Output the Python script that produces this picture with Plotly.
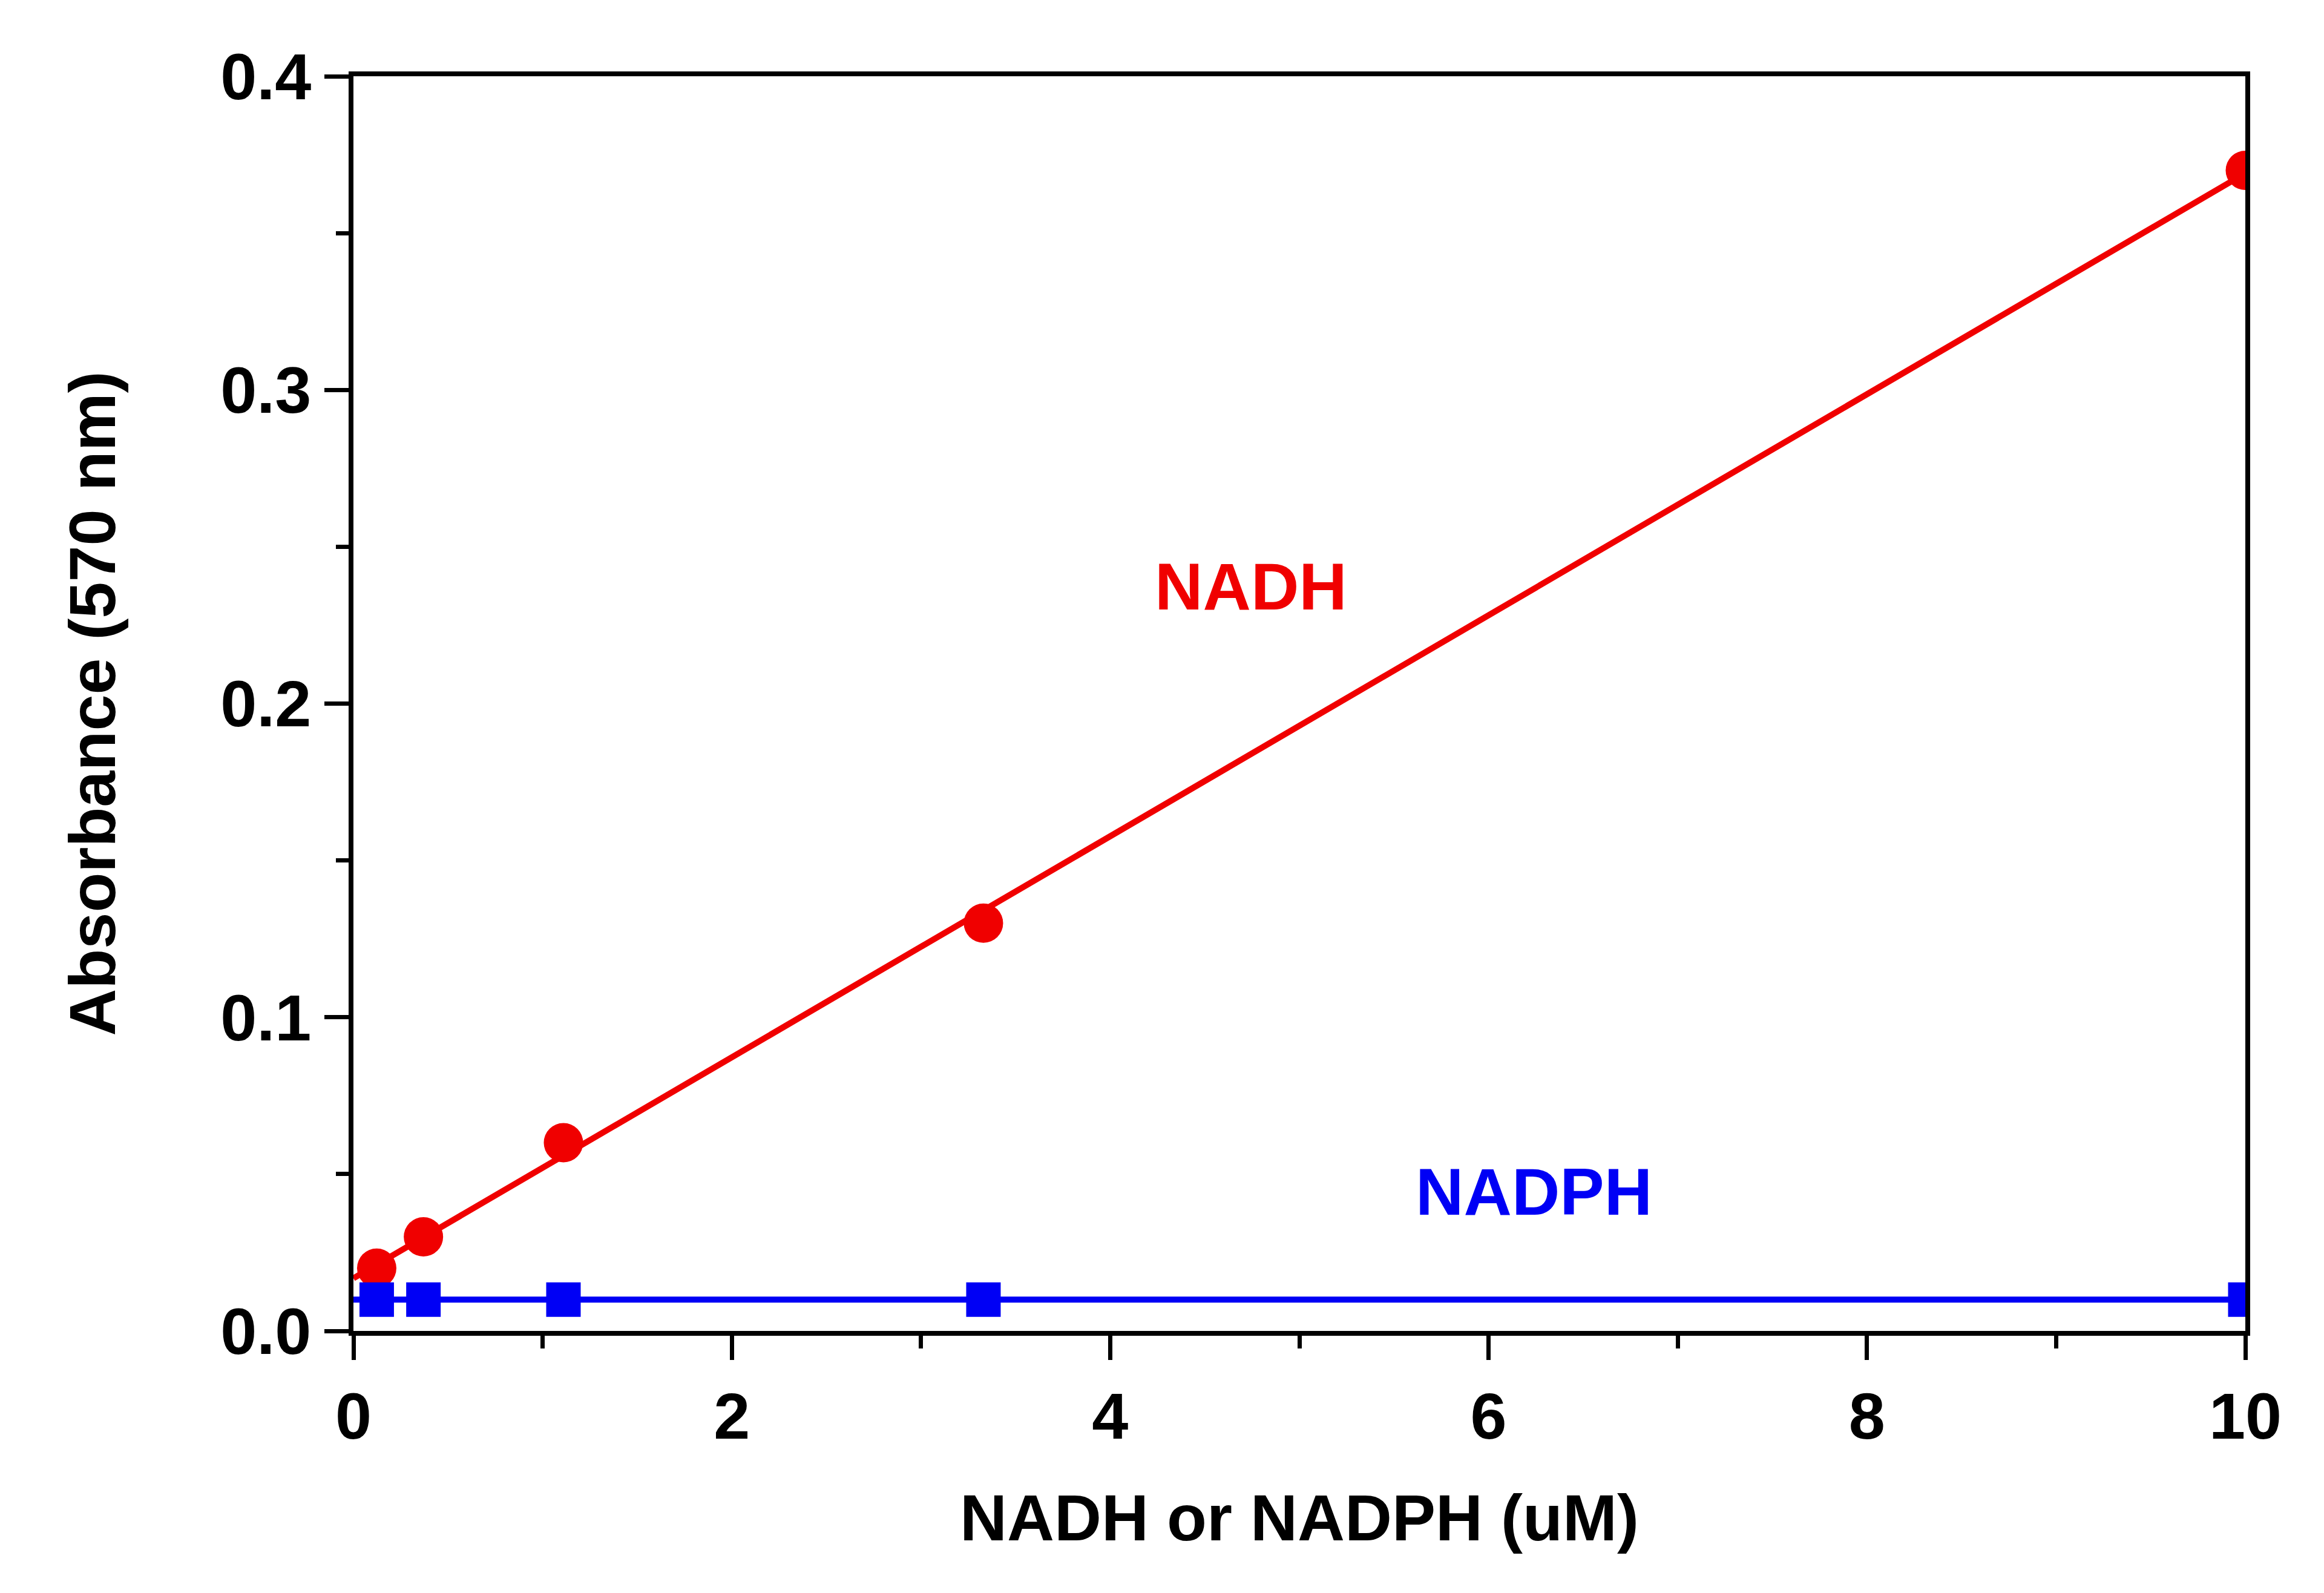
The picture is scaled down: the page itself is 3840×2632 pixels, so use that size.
import numpy as np
import plotly.graph_objects as go

# Data
conc = [0.123, 0.37, 1.11, 3.33, 10.0]
nadh_abs = [0.020, 0.030, 0.060, 0.130, 0.370]
nadph_abs = [0.010, 0.010, 0.010, 0.010, 0.010]
x_ticks = [0, 2, 4, 6, 8, 10]
y_ticks = [0.0, 0.1, 0.2, 0.3, 0.4]
y_tick_labels = ["0.0", "0.1", "0.2", "0.3", "0.4"]

RED = "#F00000"
BLUE = "#0000F5"
FONT = "Liberation Sans, Arial, sans-serif"

# linear fits
fit_x = np.array([0.0, 10.0])
p_nadh = np.polyfit(conc, nadh_abs, 1)
p_nadph = np.polyfit(conc, nadph_abs, 1)

fig = go.Figure()
fig.add_trace(go.Scatter(x=fit_x, y=np.polyval(p_nadh, fit_x), mode="lines",
                         line=dict(color=RED, width=10), showlegend=False))
fig.add_trace(go.Scatter(x=conc, y=nadh_abs, mode="markers",
                         marker=dict(symbol="circle", size=65, color=RED, line=dict(width=0)),
                         showlegend=False))
fig.add_trace(go.Scatter(x=fit_x, y=np.polyval(p_nadph, fit_x), mode="lines",
                         line=dict(color=BLUE, width=10), showlegend=False))
fig.add_trace(go.Scatter(x=conc, y=nadph_abs, mode="markers",
                         marker=dict(symbol="square", size=57, color=BLUE, line=dict(width=0)),
                         showlegend=False))

fig.add_annotation(x=4.745, y=0.2375, text="NADH", showarrow=False,
                   font=dict(family=FONT, size=110, color=RED, weight="bold"))
fig.add_annotation(x=6.24, y=0.0445, text="NADPH", showarrow=False,
                   font=dict(family=FONT, size=110, color=BLUE, weight="bold"))

axis_common = dict(
    showgrid=False, zeroline=False, showline=True, linecolor="black", linewidth=8,
    mirror=True, ticks="outside", ticklen=40, tickwidth=7, tickcolor="black",
    tickfont=dict(family=FONT, size=108, color="black", weight="bold"),
)

fig.update_xaxes(range=[0, 10], tickvals=x_ticks, ticktext=[str(v) for v in x_ticks],
                 minor=dict(dtick=1, ticks="outside", ticklen=21, tickwidth=7, tickcolor="black"),
                 title=dict(text="NADH or NADPH (uM)", standoff=74,
                            font=dict(family=FONT, size=108, color="black", weight="bold")),
                 **axis_common)
fig.update_yaxes(range=[0, 0.4], tickvals=y_ticks, ticktext=y_tick_labels,
                 minor=dict(dtick=0.05, ticks="outside", ticklen=21, tickwidth=7, tickcolor="black"),
                 title=dict(text="Absorbance (570 nm)", standoff=140,
                            font=dict(family=FONT, size=108, color="black", weight="bold")),
                 **axis_common)

fig.update_layout(
    width=3824, height=2616,
    margin=dict(l=576, r=122, t=118, b=425, autoexpand=False),
    plot_bgcolor="white", paper_bgcolor="white",
)

fig.write_html("out.html")
